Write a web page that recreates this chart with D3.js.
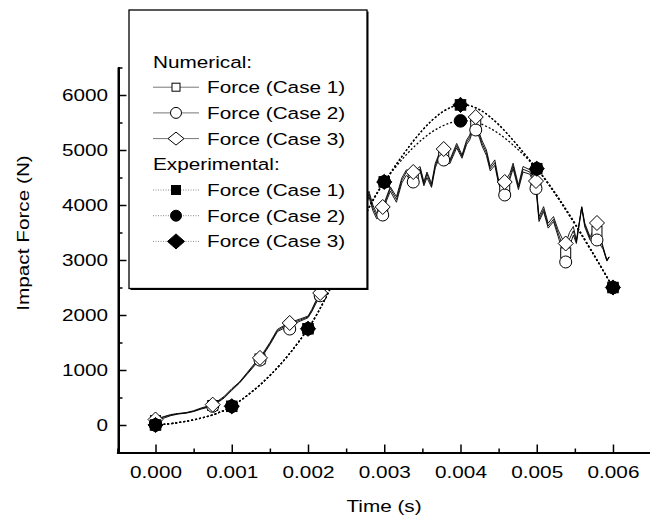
<!DOCTYPE html>
<html><head><meta charset="utf-8">
<script src="https://cdn.jsdelivr.net/npm/d3@7"></script>
<style>
html,body{margin:0;padding:0;background:#fff;}
svg text{font-family:"Liberation Sans",Arial,Helvetica,sans-serif;font-size:17px;fill:#000;}
</style></head>
<body><svg id="c" width="650" height="519"></svg>
<script>
// ---------- DATA ----------
const numTime = [0,0.0001,0.0002,0.0003,0.0004,0.0005,0.0006,0.00075,0.0009,0.001,0.0011,0.0012,0.0013,0.00137,0.0015,0.0016,0.0017,0.00176,0.0018,0.0019,0.002,0.00205,0.0021,0.00216,0.0023,0.0025,0.0026,0.0027,0.00275,0.0028,0.00285,0.0029,0.00298,0.00303,0.00308,0.00316,0.00323,0.00329,0.00338,0.00347,0.00352,0.00356,0.00362,0.00367,0.00373,0.00378,0.00386,0.00395,0.00402,0.00408,0.00412,0.00417,0.0042,0.00425,0.00428,0.00434,0.00439,0.00445,0.0045,0.00458,0.00465,0.00469,0.00476,0.00482,0.00491,0.00499,0.00501,0.00503,0.00509,0.00515,0.00522,0.00528,0.00533,0.00538,0.00543,0.00548,0.00552,0.00559,0.00563,0.0057,0.00579,0.00587,0.00592,0.00595];
const numCase1 = [80,140,180,205,220,250,300,355,505,645,770,935,1100,1200,1480,1720,1800,1800,1860,1910,1965,2080,2230,2380,2750,3200,3450,3700,4000,4200,3950,3800,3890,4120,4300,4100,4450,4600,4510,4660,4380,4560,4350,4720,4930,4920,4790,5080,4880,5140,5230,5430,5480,5260,5130,4950,4660,4770,4410,4300,4530,4710,4320,4650,4600,4370,4040,3740,3920,3620,3740,3490,3300,3130,3380,3530,3330,3960,3640,3390,3520,3220,2990,3055];
const numCase2 = [60,120,170,200,215,245,290,345,490,630,760,920,1080,1180,1460,1700,1770,1750,1830,1890,1950,2060,2200,2350,2700,3150,3400,3650,3950,4150,3900,3750,3820,4080,4250,4050,4400,4540,4420,4620,4350,4500,4320,4680,4880,4820,4750,5040,4850,5100,5180,5380,5360,5220,5080,4900,4620,4720,4380,4180,4480,4660,4280,4600,4560,4300,4000,3700,3880,3580,3700,3430,3200,2960,3250,3450,3300,3950,3600,3360,3360,3200,2980,3050];
const numCase3 = [100,150,190,210,225,260,310,370,520,660,780,950,1120,1220,1500,1740,1820,1860,1880,1930,1980,2100,2250,2400,2800,3250,3500,3750,4050,4250,4000,3850,3960,4150,4330,4150,4490,4640,4600,4700,4420,4600,4390,4760,4970,5020,4820,5120,4910,5180,5270,5480,5560,5300,5180,5000,4700,4820,4450,4420,4580,4760,4360,4700,4640,4440,4090,3790,3970,3670,3790,3550,3400,3300,3500,3610,3360,3970,3670,3420,3670,3240,3000,3060];

const markTime  = [0,0.00075,0.00137,0.00176,0.00216,0.00257,0.00298,0.00338,0.00378,0.0042,0.00458,0.00499,0.00538,0.00579];
const markCase1 = [80,355,1200,1800,2380,3350,3890,4510,4920,5480,4300,4370,3130,3520];
const markCase2 = [60,340,1180,1745,2350,3300,3818,4418,4818,5364,4182,4300,2964,3364];
const markCase3 = [100,370,1220,1855,2400,3400,3964,4600,5018,5600,4418,4436,3300,3673];

const expTime  = [0,0.001,0.002,0.003,0.004,0.005,0.006];
const expCase1 = [0,340,1750,4420,5820,4660,2500];
const expCase2 = [0,340,1750,4420,5530,4660,2500];
const expCase3 = [0,340,1750,4420,5820,4660,2500];

const xTicks = [0,0.001,0.002,0.003,0.004,0.005,0.006];
const xMinor = [-0.0005,0.0005,0.0015,0.0025,0.0035,0.0045,0.0055,0.0065];
const yTicks = [0,1000,2000,3000,4000,5000,6000];
const yMinor = [500,1500,2500,3500,4500,5500,6500];

const legendNum = ["Force (Case 1)","Force (Case 2)","Force (Case 3)"];
const legendExp = ["Force (Case 1)","Force (Case 2)","Force (Case 3)"];
const shapes = ["square","circle","diamond"];

// ---------- SETUP ----------
const SX = 1.22;
const svg = d3.select("#c");
const x = d3.scaleLinear().domain([-0.0005,0.0065]).range([117.4,651.1]);
const y = d3.scaleLinear().domain([-500,6500]).range([452.5,67.5]);

function stxt(parent, px, py, str, anchor, rot){
  return parent.append("text")
    .attr("transform", `translate(${px},${py})` + (rot?` rotate(${rot})`:"") + ` scale(${SX},1)`)
    .attr("text-anchor", anchor).text(str);
}
function marker(g, type, cx, cy, sz, fill){
  if(type==="square"){
    g.append("rect").attr("x",cx-sz.s/2).attr("y",cy-sz.s/2).attr("width",sz.s).attr("height",sz.s)
      .attr("fill",fill).attr("stroke","#000").attr("stroke-width",1);
  } else if(type==="circle"){
    g.append("circle").attr("cx",cx).attr("cy",cy).attr("r",sz.r)
      .attr("fill",fill).attr("stroke","#000").attr("stroke-width",1);
  } else {
    g.append("path").attr("d",`M${cx},${cy-sz.dh}L${cx+sz.dw},${cy}L${cx},${cy+sz.dh}L${cx-sz.dw},${cy}Z`)
      .attr("fill",fill).attr("stroke","#000").attr("stroke-width",1);
  }
}

// ---------- AXES ----------
const xAxis = svg.append("g").attr("transform","translate(0,452.5)")
  .call(d3.axisBottom(x).tickValues(xTicks).tickSize(-8).tickSizeOuter(0).tickPadding(13)
        .tickFormat(d3.format(".3f")));
xAxis.select(".domain").attr("stroke-width",2);
xAxis.selectAll(".tick line").attr("stroke-width",1.5);
xAxis.selectAll(".tick text").attr("font-size",null).attr("font-family",null).attr("transform",`scale(${SX},1)`);
svg.append("g").attr("transform","translate(0,452.5)")
  .call(d3.axisBottom(x).tickValues(xMinor).tickSize(-4).tickSizeOuter(0).tickFormat(""))
  .call(g=>g.select(".domain").remove())
  .selectAll(".tick line").attr("stroke-width",1.5);

const yAxis = svg.append("g").attr("transform","translate(118.5,0)")
  .call(d3.axisLeft(y).tickValues(yTicks).tickSize(-8).tickSizeOuter(0).tickFormat(d3.format("d")));
yAxis.select(".domain").attr("stroke-width",2);
yAxis.selectAll(".tick line").attr("stroke-width",1.5);
yAxis.selectAll(".tick text").attr("font-size",null).attr("font-family",null)
  .attr("x",-10.5/SX).attr("dy","0.34em").attr("transform",`scale(${SX},1)`);
svg.append("g").attr("transform","translate(118.5,0)")
  .call(d3.axisLeft(y).tickValues(yMinor).tickSize(-4).tickSizeOuter(0).tickFormat(""))
  .call(g=>g.select(".domain").remove())
  .selectAll(".tick line").attr("stroke-width",1.5);
svg.selectAll(".domain").attr("stroke-linecap","square");
svg.append("line").attr("x1",118.5).attr("x2",118.5).attr("y1",y(-500)).attr("y2",y(6500)).attr("stroke","#000").attr("stroke-width",2);

stxt(svg, 384, 512, "Time (s)", "middle");
stxt(svg, 29, 233, "Impact Force (N)", "middle", -90);

// ---------- DATA MARKS ----------
const plot = svg.append("g");
const lineNum = d3.line().x((d,i)=>x(numTime[i])).y(d=>y(d));
[numCase1,numCase2,numCase3].forEach(arr=>{
  plot.append("path").attr("d",lineNum(arr)).attr("fill","none").attr("stroke","#000").attr("stroke-width",0.9);
});
const lineExp = d3.line().x((d,i)=>x(expTime[i])).y(d=>y(d)).curve(d3.curveCatmullRom.alpha(0));
[expCase1,expCase2,expCase3].forEach(arr=>{
  plot.append("path").attr("d",lineExp(arr)).attr("fill","none").attr("stroke","#000")
    .attr("stroke-width",1.3).attr("stroke-dasharray","2,2");
});
const plotSz = {s:10,r:6,dw:7.5,dh:7.5};
[markCase1,markCase2,markCase3].forEach((arr,k)=>{
  arr.forEach((v,i)=>marker(plot, shapes[k], x(markTime[i]), y(v), plotSz, "#fff"));
});
const expSz = {s:10.5,r:6.3,dw:7.6,dh:7.6};
[expCase1,expCase2,expCase3].forEach((arr,k)=>{
  arr.forEach((v,i)=>marker(plot, shapes[k], x(expTime[i]), y(v), expSz, "#000"));
});

// ---------- LEGEND ----------
const lg = svg.append("g");
lg.append("rect").attr("x",130.5).attr("y",11.5).attr("width",238).attr("height",278.5).attr("fill","#000");
lg.append("rect").attr("x",129).attr("y",10).attr("width",238).attr("height",278.5)
  .attr("fill","#fff").attr("stroke","#000").attr("stroke-width",1.3);
const row0 = 61.5, rowH = 25.7, lx0 = 153, lx1 = 199, lmx = 176, ltx = 207;
stxt(lg, lx0, row0+6, "Numerical:", "start");
const legSzN = {s:8,r:5.5,dw:8,dh:6.5};
legendNum.forEach((t,i)=>{
  const cy = row0 + rowH*(i+1);
  lg.append("line").attr("x1",lx0).attr("x2",lx1).attr("y1",cy).attr("y2",cy).attr("stroke","#777").attr("stroke-width",1);
  marker(lg, shapes[i], lmx, cy, legSzN, "#fff");
  stxt(lg, ltx, cy+6, t, "start");
});
stxt(lg, lx0, row0+rowH*4+6, "Experimental:", "start");
const legSzE = {s:9,r:5.5,dw:8.5,dh:7.5};
legendExp.forEach((t,i)=>{
  const cy = row0 + rowH*(i+5);
  lg.append("line").attr("x1",lx0).attr("x2",lx1).attr("y1",cy).attr("y2",cy).attr("stroke","#888")
    .attr("stroke-width",1).attr("stroke-dasharray","1,1.5");
  marker(lg, shapes[i], lmx, cy, legSzE, "#000");
  stxt(lg, ltx, cy+6, t, "start");
});
</script></body></html>
